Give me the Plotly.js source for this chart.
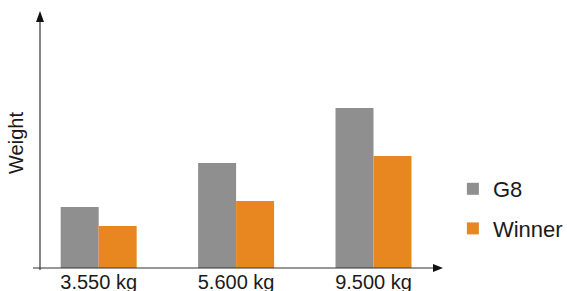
<!DOCTYPE html>
<html>
<head>
<meta charset="utf-8">
<script src="https://cdn.plot.ly/plotly-3.0.1.min.js"></script>
<style>html,body{margin:0;padding:0;background:#fff;}#chart{width:567px;height:291px;}</style>
</head>
<body>
<div id="chart"></div>
<script>
const categories = ["3.550 kg", "5.600 kg", "9.500 kg"];
const g8Values = [61, 105, 160];
const winnerValues = [42, 67, 112];
const seriesNames = ["G8", "Winner"];
const yTitle = "Weight";

const FONT = "Liberation Sans, Arial, Helvetica, sans-serif";
const traces = [
  {type: "bar", name: seriesNames[0], x: categories, y: g8Values,
   marker: {color: "#8f8f8f"}, legendgroup: "a", hoverinfo: "none"},
  {type: "bar", name: seriesNames[1], x: categories, y: winnerValues,
   marker: {color: "#e8871f"}, legendgroup: "b", hoverinfo: "none"}
];
const axisColor = "#333333";
const layout = {
  width: 567, height: 291,
  margin: {l: 40, r: 130, t: 18, b: 23, pad: 0, autoexpand: false},
  paper_bgcolor: "#ffffff", plot_bgcolor: "#ffffff",
  barmode: "group", bargap: 0.447, bargroupgap: 0,
  font: {family: FONT, color: "#1a1a1a"},
  xaxis: {type: "category", range: [-0.427, 2.462], showline: false, showgrid: false,
          zeroline: false, ticks: "", tickfont: {size: 20, family: FONT, color: "#1a1a1a"},
          ticklabelstandoff: 0, fixedrange: true, automargin: false},
  yaxis: {range: [0, 250], showline: false, showgrid: false, zeroline: false,
          showticklabels: false, ticks: "", fixedrange: true, automargin: false,
          title: {text: yTitle, font: {size: 20, family: FONT, color: "#1a1a1a"}, standoff: 10}},
  showlegend: true,
  legend: {x: 1.040, xanchor: "left", y: 0.40, yanchor: "top", tracegroupgap: 8,
           font: {size: 22, family: FONT, color: "#1a1a1a"}, bgcolor: "rgba(0,0,0,0)"},
  shapes: [
    {type: "line", xref: "paper", yref: "paper", x0: 0, x1: 0, y0: -0.008, y1: 1.0,
     line: {color: axisColor, width: 1.2}},
    {type: "line", xref: "paper", yref: "paper", x0: -0.0176, x1: 1.0, y0: 0, y1: 0,
     line: {color: axisColor, width: 1.2}},
    {type: "path", xref: "paper", yref: "paper", xsizemode: "pixel", ysizemode: "pixel",
     xanchor: 0, yanchor: 1, path: "M -4,-4 L 4,-4 L 0,7 Z",
     fillcolor: "#111111", line: {width: 0}},
    {type: "path", xref: "paper", yref: "paper", xsizemode: "pixel", ysizemode: "pixel",
     xanchor: 1, yanchor: 0, path: "M -4,4 L -4,-4 L 6,0 Z",
     fillcolor: "#111111", line: {width: 0}}
  ]
};
Plotly.newPlot("chart", traces, layout, {displayModeBar: false, staticPlot: true});
</script>
</body>
</html>
